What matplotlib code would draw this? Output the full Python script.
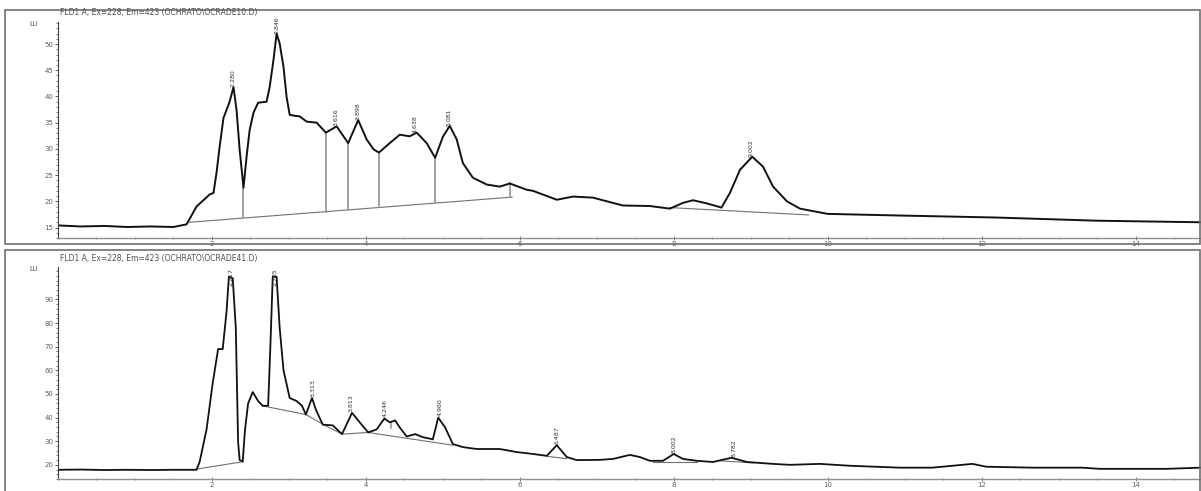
import matplotlib
matplotlib.use("Agg")
import matplotlib.pyplot as plt
from matplotlib.patches import Rectangle
from matplotlib.ticker import MultipleLocator

# ---------------- data ----------------
top_title = "FLD1 A, Ex=228, Em=423 (OCHRATO\\OCRADE10.D)"
bot_title = "FLD1 A, Ex=228, Em=423 (OCHRATO\\OCRADE41.D)"
unit_label = "LU"

top_t = [0.0, 0.3, 0.6, 0.9, 1.2, 1.5, 1.67, 1.80, 1.97, 2.02, 2.06, 2.10, 2.15, 2.23,
         2.28, 2.32, 2.36, 2.41, 2.45, 2.49, 2.54, 2.60, 2.71, 2.75, 2.80, 2.84, 2.88,
         2.93, 2.97, 3.01, 3.08, 3.14, 3.23, 3.36, 3.48, 3.62, 3.77, 3.90, 4.01, 4.10,
         4.17, 4.31, 4.44, 4.57, 4.66, 4.79, 4.90, 5.00, 5.09, 5.18, 5.26, 5.39, 5.57,
         5.74, 5.87, 6.09, 6.17, 6.48, 6.69, 6.95, 7.13, 7.34, 7.69, 7.95, 8.12, 8.25,
         8.43, 8.62, 8.73, 8.86, 9.02, 9.16, 9.29, 9.47, 9.64, 10.0, 10.9, 12.2, 13.5,
         14.85]
top_v = [15.4, 15.2, 15.3, 15.1, 15.2, 15.1, 15.6, 19.0, 21.3, 21.6, 25.5, 30.4, 35.9, 39.0,
         41.8, 37.4, 29.8, 22.6, 28.5, 33.6, 36.9, 38.8, 39.0, 41.8, 47.0, 52.0, 50.1,
         45.6, 39.9, 36.5, 36.3, 36.2, 35.2, 35.0, 33.1, 34.3, 31.1, 35.5, 31.8, 29.9,
         29.3, 31.1, 32.7, 32.4, 33.1, 31.1, 28.3, 32.3, 34.4, 31.8, 27.3, 24.5, 23.2,
         22.8, 23.4, 22.2, 22.0, 20.3, 20.9, 20.7, 20.0, 19.2, 19.1, 18.6, 19.7, 20.2,
         19.6, 18.8, 21.6, 26.0, 28.5, 26.6, 22.8, 20.0, 18.6, 17.6, 17.3, 16.9, 16.3,
         16.0]

bot_t = [0.0, 0.3, 0.6, 0.9, 1.2, 1.5, 1.80, 1.84, 1.93, 2.01, 2.08, 2.14, 2.19, 2.22,
         2.27, 2.31, 2.34, 2.36, 2.40, 2.43, 2.47, 2.53, 2.60, 2.66, 2.73, 2.76, 2.79,
         2.84, 2.88, 2.93, 3.01, 3.10, 3.17, 3.22, 3.30, 3.35, 3.44, 3.57, 3.69, 3.82,
         3.92, 4.03, 4.14, 4.24, 4.31, 4.38, 4.44, 4.53, 4.64, 4.74, 4.87, 4.94, 5.03,
         5.13, 5.26, 5.44, 5.74, 5.96, 6.17, 6.35, 6.48, 6.61, 6.74, 7.04, 7.21, 7.43,
         7.56, 7.69, 7.86, 8.00, 8.12, 8.30, 8.51, 8.75, 8.95, 9.29, 9.51, 9.90, 10.29,
         10.94, 11.36, 11.62, 11.88, 12.06, 12.66, 13.31, 13.53, 14.40, 14.85]
bot_v = [17.9, 18.0, 17.8, 17.9, 17.8, 17.9, 17.9, 21.2, 35.0, 54.6, 69.0, 69.0, 85.0, 99.6,
         99.0, 78.0, 29.6, 22.0, 21.5, 35.0, 46.0, 50.8, 47.0, 45.0, 45.0, 71.0, 99.6,
         99.6, 78.0, 60.0, 48.3, 47.0, 45.0, 41.3, 48.3, 43.4, 37.0, 36.7, 33.0, 42.0,
         38.0, 33.7, 35.0, 39.6, 38.0, 38.8, 35.8, 32.0, 33.0, 31.7, 30.8, 40.0, 35.8,
         28.8, 27.5, 26.7, 26.7, 25.4, 24.6, 23.8, 28.3, 23.3, 22.0, 22.1, 22.5, 24.2,
         23.3, 21.7, 21.7, 24.6, 22.5, 21.7, 21.2, 23.0, 21.2, 20.4, 20.0, 20.4, 19.6,
         18.8, 18.8, 19.6, 20.4, 19.2, 18.8, 18.8, 18.3, 18.3, 18.8]

# integration baselines (segments) and drop lines
top_base_t = [[1.71, 5.90], [7.95, 9.75]]
top_base_v = [[16.0, 20.8], [18.8, 17.4]]
top_drop_t = [2.41, 3.48, 3.77, 4.17, 4.90, 5.87]
top_drop_v = [22.6, 33.1, 31.1, 29.3, 28.3, 23.4]

bot_base_t = [[1.82, 2.40], [2.65, 3.22, 3.49, 3.69], [3.69, 4.03],
              [4.03, 5.13], [6.35, 6.61], [7.73, 8.30], [8.60, 9.03]]
bot_base_v = [[18.3, 21.3], [45.0, 41.3, 36.3, 33.0], [33.0, 33.7],
              [33.7, 28.3], [23.6, 22.6], [21.2, 21.2], [21.7, 20.8]]
bot_drop_t = [2.40, 4.32]
bot_drop_b = [21.3, 35.6]
bot_drop_v = [21.5, 38.0]

top_peak_labels = ["2.280", "2.846", "3.616", "3.898", "4.638", "5.081", "9.002"]
top_peak_t = [2.28, 2.846, 3.616, 3.898, 4.638, 5.081, 9.002]
top_peak_v = [41.8, 52.0, 34.3, 35.5, 33.1, 34.4, 28.5]

bot_peak_labels = ["2.217", "2.785", "3.313", "3.813", "4.246", "4.960", "6.487", "8.002", "8.782"]
bot_peak_t = [2.217, 2.785, 3.313, 3.813, 4.246, 4.960, 6.487, 8.002, 8.782]
bot_peak_v = [99.6, 99.6, 48.3, 42.0, 39.6, 40.0, 28.3, 24.6, 23.0]

x_ticks = [2, 4, 6, 8, 10, 12, 14]
top_y_ticks = [15, 20, 25, 30, 35, 40, 45, 50]
bot_y_ticks = [20, 30, 40, 50, 60, 70, 80, 90]

# ---------------- figure ----------------
W, H = 1201, 491
fig = plt.figure(figsize=(W / 100, H / 100), dpi=100)
plt.rcParams['font.family'] = ['DejaVu Sans']

def fx(px):
    return px / W

def fy(py):
    return 1 - py / H

# outer frames
for (y0, y1) in [(10, 244), (250, 495)]:
    fig.patches.append(Rectangle((fx(5), fy(y1)), fx(1200) - fx(5), fy(y0) - fy(y1),
                                 transform=fig.transFigure, fill=False,
                                 edgecolor="#707070", linewidth=1.2))

tick_col = "#606060"

def setup(ax, ylim, yticks, yminor, title, ytop_px):
    ax.set_xlim(0, 14.85)
    ax.set_ylim(*ylim)
    for s in ["top", "right"]:
        ax.spines[s].set_visible(False)
    ax.spines["left"].set_color("#404040")
    ax.spines["bottom"].set_color("#909090")
    ax.spines["left"].set_linewidth(0.8)
    ax.spines["bottom"].set_linewidth(1.0)
    ax.set_xticks(x_ticks)
    ax.xaxis.set_minor_locator(MultipleLocator(0.5))
    ax.set_yticks(yticks)
    ax.yaxis.set_minor_locator(MultipleLocator(yminor))
    ax.tick_params(axis="both", which="major", labelsize=5, colors=tick_col,
                   length=2.5, width=0.6, pad=1)
    ax.tick_params(axis="both", which="minor", colors=tick_col, length=1.5, width=0.5)
    ax.tick_params(axis="x", which="both", direction="inout")
    ax.tick_params(axis="y", which="both", colors="#404040", labelcolor=tick_col)
    ax.set_facecolor("none")
    fig.text(fx(60), fy(ytop_px), title, fontsize=5.5, color="#505050",
             ha="left", va="center")
    fig.text(fx(34), fy(ytop_px + 11), unit_label, fontsize=5, color="#505050",
             ha="center", va="center")

# top panel
ax1 = fig.add_axes([fx(58), fy(238), 1 - fx(58), fy(22) - fy(238)])
setup(ax1, (13.0, 54.2), top_y_ticks, 1, top_title, 13)
for bt, bv in zip(top_base_t, top_base_v):
    ax1.plot(bt, bv, color="#707070", lw=0.8)
for dt, dv in zip(top_drop_t, top_drop_v):
    b0 = top_base_v[0][0] + (top_base_v[0][1] - top_base_v[0][0]) * \
        (dt - top_base_t[0][0]) / (top_base_t[0][1] - top_base_t[0][0])
    ax1.plot([dt, dt], [b0, dv], color="#9a9a9a", lw=1.3)
ax1.plot(top_t, top_v, color="#111111", lw=1.4, solid_joinstyle="round")
for lab, t, v in zip(top_peak_labels, top_peak_t, top_peak_v):
    ax1.text(t, v, lab, rotation=90, fontsize=4.5, color="#303030",
             ha="center", va="bottom")

# bottom panel
ax2 = fig.add_axes([fx(58), fy(479), 1 - fx(58), fy(267) - fy(479)])
setup(ax2, (14.0, 103.75), bot_y_ticks, 2, bot_title, 258)
for bt, bv in zip(bot_base_t, bot_base_v):
    ax2.plot(bt, bv, color="#707070", lw=0.8)
for dt, db, dv in zip(bot_drop_t, bot_drop_b, bot_drop_v):
    ax2.plot([dt, dt], [db, dv], color="#9a9a9a", lw=1.2)
ax2.plot(bot_t, bot_v, color="#111111", lw=1.3, solid_joinstyle="round")
for lab, t, v in zip(bot_peak_labels, bot_peak_t, bot_peak_v):
    if v > 95:
        ax2.text(t + 0.03, 99.5, lab, rotation=90, fontsize=4.5, color="#303030",
                 ha="center", va="center")
    else:
        ax2.text(t, v + 0.5, lab, rotation=90, fontsize=4.5, color="#303030",
                 ha="center", va="bottom")

fig.savefig("out.png", dpi=100, facecolor="white")
